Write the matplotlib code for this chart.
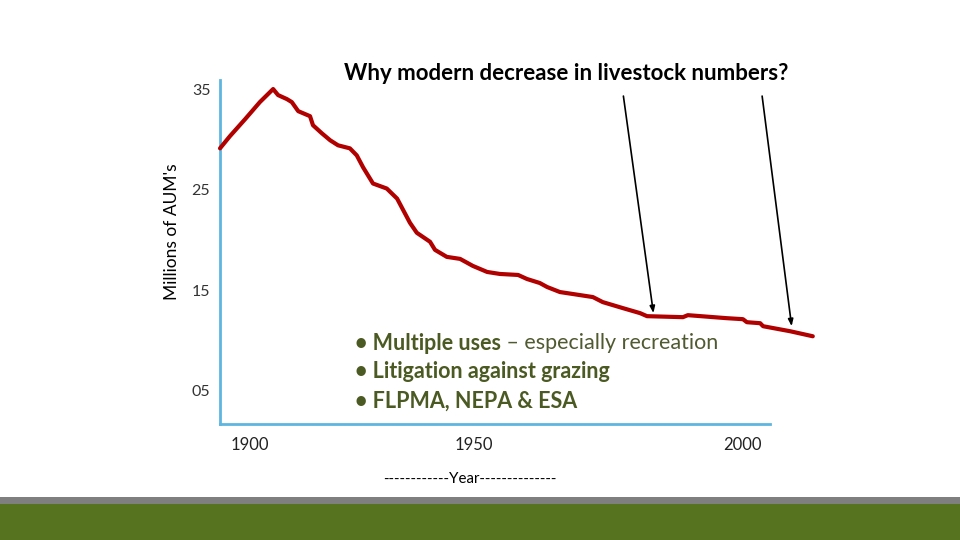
"""Livestock AUMs on public land, 1890s-2010s, with annotation of modern decline."""
import matplotlib
matplotlib.use("Agg")
import matplotlib.pyplot as plt
from matplotlib.patches import Rectangle

# --- data ---
years = [1893.9, 1895.9, 1899.0, 1902.0, 1904.7, 1905.7, 1907.5, 1908.5, 1909.8,
         1912.2, 1912.8, 1914.6, 1916.3, 1917.9, 1920.3, 1921.7, 1923.0, 1925.0,
         1927.8, 1929.9, 1932.5, 1933.9, 1936.6, 1937.6, 1940.0, 1942.7, 1945.3,
         1948.2, 1950.8, 1954.5, 1956.3, 1958.9, 1960.4, 1963.0, 1965.7, 1969.7,
         1971.7, 1975.8, 1979.3, 1980.7, 1988.0, 1989.0, 1996.9, 2000.2, 2001.0,
         2003.7, 2004.3, 2009.8, 2014.4]
aums = [29.1, 30.3, 32.0, 33.7, 35.0, 34.4, 34.0, 33.7, 32.8,
        32.3, 31.4, 30.6, 29.9, 29.4, 29.1, 28.4, 27.2, 25.6,
        25.1, 24.1, 21.7, 20.7, 19.8, 19.0, 18.3, 18.1, 17.4,
        16.8, 16.6, 16.5, 16.1, 15.7, 15.3, 14.8, 14.6, 14.3,
        13.8, 13.2, 12.7, 12.4, 12.3, 12.5, 12.2, 12.1, 11.8,
        11.7, 11.4, 10.9, 10.4]

ytick_pos = [35, 25, 15, 5]
ytick_labels = ["35", "25", "15", "05"]
xtick_pos = [1900, 1945.5, 2000]
xtick_labels = ["1900", "1950", "2000"]

# arrows: (start year, start value) -> (end year, end value)
arrow_from = [(1975.9, 34.3), (2004.1, 34.3)]
arrow_to = [(1982.0, 12.7), (2010.1, 11.4)]

RED = "#b00000"
BLUE = "#5eb6e0"
OLIVE = "#4b5a22"
FONT = ["Lato", "DejaVu Sans"]

plt.rcParams["font.family"] = FONT

fig = plt.figure(figsize=(9.6, 5.4), dpi=100)
ax = fig.add_axes([220 / 960, 116 / 540, 550 / 960, 344 / 540])

ax.plot(years, aums, color=RED, lw=3.0, solid_capstyle="round", clip_on=False, zorder=3)

ax.set_xlim(1893.9, 2005.7)
ax.set_ylim(1.67, 35.9)

for side in ("top", "right"):
    ax.spines[side].set_visible(False)
for side in ("left", "bottom"):
    ax.spines[side].set_color(BLUE)
    ax.spines[side].set_linewidth(2.0)

ax.set_yticks(ytick_pos)
ax.set_yticklabels(ytick_labels)
ax.set_xticks(xtick_pos)
ax.set_xticklabels(xtick_labels)
ax.tick_params(axis="y", length=0, pad=7, labelsize=11.5, labelcolor="#333333")
ax.tick_params(axis="x", length=0, pad=9, labelsize=12, labelcolor="#222222")

ax.set_ylabel("Millions of AUM's", fontsize=12.5)
ax.yaxis.set_label_coords(-0.072, 0.558)

for (x0, y0), (x1, y1) in zip(arrow_from, arrow_to):
    ax.annotate("", xy=(x1, y1), xytext=(x0, y0), annotation_clip=False,
                arrowprops=dict(arrowstyle="-|>,head_length=0.4,head_width=0.15",
                                color="black", lw=1.2, shrinkA=0, shrinkB=0))

fig.text(566 / 960, 1 - 73 / 540, "Why modern decrease in livestock numbers?",
         ha="center", va="center", fontsize=16, fontweight="bold", color="black")

# bullet list
t1 = fig.text(355 / 960, 1 - 343 / 540, "\u2022 Multiple uses", ha="left", va="center",
              fontsize=15.5, fontweight="bold", color=OLIVE)
ax.annotate(" \u2013 especially recreation", xy=(1, 0.5), xycoords=t1, ha="left", va="center",
            fontsize=15.5, color="#505a30")
fig.text(355 / 960, 1 - 372 / 540, "\u2022 Litigation against grazing", ha="left", va="center",
         fontsize=15.5, fontweight="bold", color=OLIVE)
fig.text(355 / 960, 1 - 401 / 540, "\u2022 FLPMA, NEPA & ESA", ha="left", va="center",
         fontsize=15.5, fontweight="bold", color=OLIVE)

fig.text(470 / 960, 1 - 479 / 540, "------------Year--------------", ha="center", va="center",
         fontsize=10.8, color="black")

# footer bands
fig.patches.append(Rectangle((0, 36 / 540), 1, 7 / 540, transform=fig.transFigure,
                             facecolor="#7f7f7f", edgecolor="none"))
fig.patches.append(Rectangle((0, 0), 1, 36 / 540, transform=fig.transFigure,
                             facecolor="#56731f", edgecolor="none"))

fig.savefig("out.png", dpi=100)
plt.close(fig)
